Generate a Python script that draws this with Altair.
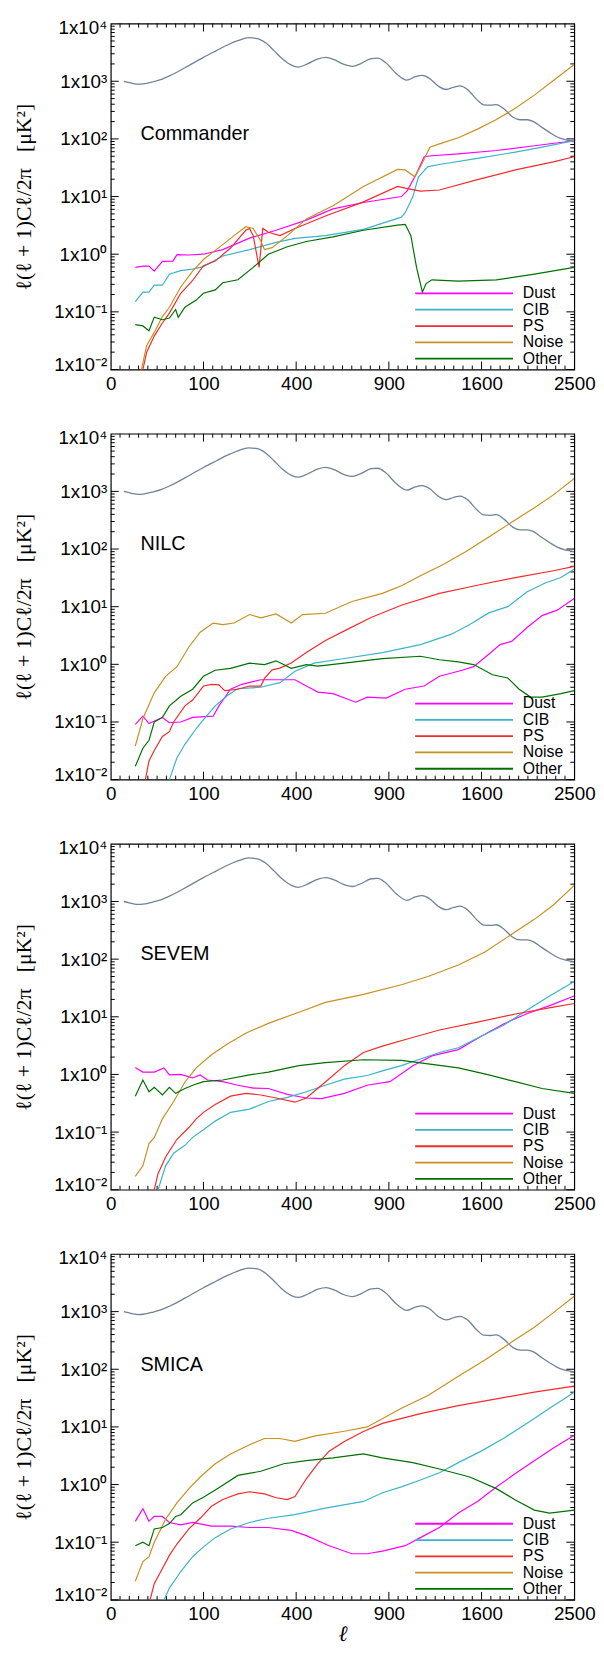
import altair as alt
import pandas as pd

W, H = 469, 350
SANS = "Liberation Sans"
SERIF = "Liberation Serif"

SERIES = ["Dust", "CIB", "PS", "Noise", "Other"]
COLORS = ["#ff00ff", "#3ab4cc", "#f52a2a", "#c8901e", "#007000"]
CMB_COLOR = "#6f8398"
PANELS = ["Commander", "NILC", "SEVEM", "SMICA"]

X_TICKS = [0, 100, 400, 900, 1600, 2500]
Y_TICKS = [0.01, 0.1, 1, 10, 100, 1000, 10000]
Y_LABELS = ["1x10⁻²", "1x10⁻¹", "1x10⁰", "1x10¹", "1x10²", "1x10³", "1x10⁴"]

# CMB reference spectrum (same in all panels): (ell, D_ell)
CMB = [(2, 1000), (4, 950), (6, 910), (9, 890), (12, 900), (16, 930), (20, 970), (30, 1080),
       (40, 1240), (50, 1420), (70, 1850), (100, 2600), (130, 3400), (160, 4300), (190, 5100),
       (220, 5700), (250, 5500), (280, 4600), (310, 3400), (340, 2500), (380, 1900), (410, 1760),
       (450, 2000), (500, 2450), (540, 2600), (580, 2380), (630, 1980), (680, 1820), (730, 2050),
       (790, 2480), (830, 2520), (880, 2100), (950, 1350), (1020, 1050), (1080, 1200), (1130, 1260),
       (1180, 1130), (1250, 820), (1310, 720), (1370, 790), (1420, 830), (1480, 720), (1560, 480),
       (1620, 390), (1680, 385), (1730, 395), (1800, 330), (1880, 240), (1950, 215), (2020, 215),
       (2080, 200), (2160, 160), (2240, 130), (2320, 108), (2400, 97), (2470, 92), (2500, 90)]

# Commander
COM_DUST = [(7, 0.59), (12, 0.62), (17, 0.62), (22, 0.51), (31, 0.75), (45, 0.76), (51, 0.98), (70, 0.97),
            (100, 1.0), (146, 1.2), (224, 1.9), (318, 2.6), (445, 3.9), (575, 6.1), (743, 7.9), (983, 10),
            (1022, 12.5), (1088, 25), (1143, 49), (1200, 51), (1406, 55), (1731, 63), (2088, 76), (2500, 93)]
COM_CIB = [(7, 0.15), (12, 0.22), (17, 0.22), (22, 0.29), (31, 0.29), (40, 0.45), (57, 0.52), (78, 0.55),
           (100, 0.61), (146, 0.93), (224, 1.2), (318, 1.6), (395, 1.88), (536, 2.1), (743, 2.7), (983, 4.4),
           (1010, 5.3), (1062, 10), (1102, 22), (1171, 33), (1257, 36), (1565, 46), (1905, 59), (2165, 72),
           (2500, 93)]
COM_PS = [(10, 0.006), (15, 0.020), (22, 0.038), (31, 0.064), (40, 0.095), (57, 0.21), (78, 0.35), (100, 0.63),
          (127, 0.76), (167, 1.28), (212, 2.6), (224, 2.8), (236, 2.1), (256, 0.59), (269, 2.8), (289, 2.4),
          (333, 2.1), (395, 2.8), (536, 4.6), (743, 8.1), (957, 15), (1009, 14), (1116, 12.4), (1257, 13),
          (1565, 19.7), (1905, 29), (2280, 40), (2500, 49)]
COM_NOISE = [(9, 0.006), (15, 0.026), (22, 0.044), (31, 0.083), (40, 0.12), (57, 0.27), (78, 0.51), (100, 0.81),
             (136, 1.3), (177, 2.1), (212, 3.0), (236, 2.8), (262, 1.7), (275, 1.2), (303, 1.3), (363, 2.1),
             (445, 4.1), (575, 6.9), (743, 15), (957, 29.5), (1009, 29), (1075, 22), (1116, 33), (1185, 72),
             (1257, 82), (1406, 105), (1565, 148), (1731, 217), (1905, 340), (2088, 575), (2280, 1030),
             (2500, 1960)]
COM_OTHER = [(7, 0.060), (12, 0.057), (17, 0.047), (22, 0.081), (31, 0.073), (40, 0.078), (49, 0.11), (53, 0.08),
             (64, 0.12), (85, 0.16), (100, 0.21), (127, 0.24), (146, 0.32), (188, 0.36), (236, 0.59), (289, 1.0),
             (363, 1.35), (445, 1.66), (575, 2.0), (743, 2.6), (957, 3.2), (1009, 3.3), (1048, 2.1), (1088, 0.59),
             (1130, 0.22), (1157, 0.31), (1200, 0.36), (1406, 0.34), (1731, 0.36), (2088, 0.45), (2500, 0.59)]

# NILC
NIL_DUST = [(7, 0.091), (12, 0.126), (17, 0.094), (31, 0.12), (40, 0.097), (57, 0.10), (78, 0.12), (122, 0.126),
            (136, 0.19), (167, 0.37), (200, 0.45), (262, 0.54), (333, 0.54), (395, 0.54), (445, 0.42), (499, 0.33),
            (575, 0.31), (699, 0.22), (765, 0.27), (883, 0.26), (1009, 0.37), (1143, 0.42), (1257, 0.62),
            (1437, 0.79), (1532, 0.91), (1663, 1.5), (1764, 2.2), (1870, 2.5), (2014, 4.3), (2165, 7),
            (2319, 8.7), (2500, 13.8)]
NIL_CIB = [(38, 0.006), (40, 0.01), (51, 0.024), (64, 0.041), (85, 0.077), (100, 0.11), (127, 0.19), (156, 0.28),
           (188, 0.38), (262, 0.40), (333, 0.48), (395, 0.76), (481, 1.05), (635, 1.26), (859, 1.6), (1116, 2.2),
           (1346, 3.3), (1500, 4.9), (1663, 7.8), (1834, 10), (2014, 18), (2202, 26), (2359, 32), (2500, 45)]
NIL_PS = [(12, 0.006), (17, 0.021), (22, 0.032), (31, 0.056), (40, 0.068), (46, 0.10), (64, 0.19), (78, 0.24),
          (100, 0.42), (118, 0.45), (136, 0.44), (151, 0.35), (188, 0.37), (224, 0.42), (262, 0.42), (275, 0.57),
          (303, 0.80), (333, 0.86), (379, 1.05), (445, 1.6), (536, 2.6), (635, 3.8), (788, 6.5), (983, 10.6),
          (1257, 17), (1565, 23.5), (1905, 32), (2280, 42), (2500, 50)]
NIL_NOISE = [(7, 0.038), (12, 0.115), (22, 0.32), (35, 0.62), (51, 0.91), (71, 2.0), (93, 3.6), (122, 5.2),
             (146, 4.9), (177, 5.2), (224, 7.3), (262, 6.4), (318, 7.5), (379, 5.2), (428, 7.3), (536, 7.7),
             (677, 12.3), (859, 17), (983, 23), (1116, 34.5), (1286, 54), (1469, 91), (1663, 162), (1870, 290),
             (2088, 520), (2280, 870), (2500, 1670)]
NIL_OTHER = [(7, 0.017), (12, 0.035), (17, 0.048), (22, 0.10), (31, 0.12), (40, 0.19), (57, 0.28), (78, 0.37),
             (100, 0.62), (127, 0.79), (167, 0.85), (224, 1.05), (275, 0.99), (318, 1.15), (379, 0.85), (445, 0.99),
             (499, 0.93), (635, 1.05), (859, 1.26), (1116, 1.38), (1257, 1.2), (1406, 1.1), (1532, 0.99),
             (1696, 0.66), (1834, 0.58), (1941, 0.37), (2050, 0.27), (2165, 0.27), (2359, 0.31), (2500, 0.35)]

# SEVEM
SEV_DUST = [(7, 1.32), (12, 1.1), (22, 1.1), (33, 1.3), (40, 0.98), (57, 1.0), (78, 0.87), (93, 0.98), (109, 0.80),
            (146, 0.75), (188, 0.65), (236, 0.58), (289, 0.57), (363, 0.45), (445, 0.39), (517, 0.38), (635, 0.47),
            (765, 0.65), (907, 0.75), (1062, 1.42), (1200, 2.1), (1406, 2.7), (1597, 4.6), (1800, 7.6),
            (2014, 11.3), (2241, 15.6), (2500, 23)]
SEV_CIB = [(24, 0.006), (26, 0.01), (35, 0.026), (46, 0.043), (64, 0.059), (78, 0.081), (100, 0.11), (127, 0.155),
           (167, 0.22), (224, 0.25), (289, 0.34), (363, 0.40), (445, 0.50), (536, 0.65), (635, 0.83), (765, 0.96),
           (859, 1.15), (983, 1.42), (1116, 1.85), (1257, 2.4), (1406, 2.9), (1597, 4.6), (1800, 7.2),
           (2014, 13), (2241, 23), (2500, 41)]
SEV_PS = [(19, 0.006), (26, 0.019), (35, 0.037), (51, 0.075), (71, 0.12), (85, 0.17), (100, 0.22), (127, 0.30),
          (167, 0.42), (212, 0.47), (262, 0.44), (318, 0.39), (395, 0.33), (445, 0.39), (536, 0.74), (635, 1.42),
          (743, 2.4), (859, 3.1), (1035, 4.2), (1257, 5.9), (1565, 8.1), (1905, 11.2), (2280, 14.7), (2500, 17)]
SEV_NOISE = [(7, 0.017), (12, 0.026), (17, 0.063), (22, 0.08), (31, 0.17), (46, 0.34), (64, 0.74), (85, 1.3),
             (118, 2.2), (156, 3.3), (212, 5.2), (289, 7.7), (412, 12), (536, 17.8), (743, 24.5), (983, 36),
             (1171, 50), (1406, 79), (1629, 133), (1870, 270), (2088, 490), (2280, 870), (2500, 1900)]
SEV_OTHER = [(7, 0.42), (12, 0.8), (17, 0.50), (22, 0.60), (31, 0.44), (40, 0.60), (49, 0.47), (64, 0.57),
             (78, 0.65), (100, 0.75), (146, 0.80), (224, 0.98), (289, 1.1), (412, 1.42), (536, 1.6), (743, 1.8),
             (983, 1.75), (1200, 1.5), (1406, 1.3), (1663, 0.98), (1905, 0.75), (2165, 0.57), (2500, 0.47)]

# SMICA
SMI_DUST = [(7, 0.23), (12, 0.38), (17, 0.23), (22, 0.28), (31, 0.28), (40, 0.22), (57, 0.20), (78, 0.22),
            (118, 0.19), (167, 0.19), (224, 0.18), (289, 0.18), (379, 0.16), (445, 0.13), (555, 0.087),
            (677, 0.063), (765, 0.063), (859, 0.07), (1009, 0.087), (1116, 0.12), (1257, 0.18), (1406, 0.32),
            (1565, 0.51), (1731, 0.91), (1905, 1.55), (2088, 2.6), (2280, 4.3), (2500, 7.2)]
SMI_CIB = [(30, 0.006), (33, 0.01), (40, 0.016), (57, 0.031), (78, 0.056), (100, 0.083), (127, 0.12), (167, 0.17),
           (224, 0.22), (289, 0.26), (395, 0.30), (536, 0.39), (743, 0.51), (859, 0.72), (983, 0.91), (1116, 1.2),
           (1257, 1.6), (1406, 2.4), (1597, 3.8), (1800, 6.4), (2014, 11.5), (2241, 21), (2500, 40)]
SMI_PS = [(15, 0.006), (22, 0.019), (31, 0.035), (40, 0.059), (51, 0.093), (71, 0.17), (93, 0.26), (118, 0.42),
          (146, 0.55), (188, 0.69), (224, 0.75), (275, 0.69), (318, 0.59), (363, 0.55), (395, 0.62), (445, 1.26),
          (499, 2.3), (555, 3.8), (635, 5.6), (743, 8.3), (859, 11.5), (1116, 17), (1406, 23.4), (1731, 30.7),
          (2088, 40), (2500, 51)]
SMI_NOISE = [(7, 0.021), (12, 0.046), (17, 0.056), (22, 0.10), (35, 0.25), (51, 0.48), (71, 0.85), (93, 1.35),
             (127, 2.3), (167, 3.4), (224, 4.9), (275, 6.3), (333, 6.3), (395, 5.6), (481, 6.9), (635, 8.4),
             (765, 10), (983, 21), (1171, 35), (1406, 76), (1629, 145), (1870, 296), (2088, 535), (2280, 960),
             (2500, 1850)]
SMI_OTHER = [(7, 0.087), (12, 0.10), (17, 0.087), (22, 0.17), (31, 0.18), (40, 0.21), (49, 0.28), (57, 0.30),
             (78, 0.48), (100, 0.6), (136, 0.88), (188, 1.44), (262, 1.7), (348, 2.3), (445, 2.6), (575, 2.9),
             (743, 3.4), (859, 2.9), (1062, 2.4), (1257, 1.86), (1500, 1.35), (1731, 0.85), (1905, 0.54),
             (2088, 0.36), (2241, 0.32), (2500, 0.36)]

PANEL_DATA = {
    "Commander": [COM_DUST, COM_CIB, COM_PS, COM_NOISE, COM_OTHER],
    "NILC": [NIL_DUST, NIL_CIB, NIL_PS, NIL_NOISE, NIL_OTHER],
    "SEVEM": [SEV_DUST, SEV_CIB, SEV_PS, SEV_NOISE, SEV_OTHER],
    "SMICA": [SMI_DUST, SMI_CIB, SMI_PS, SMI_NOISE, SMI_OTHER],
}

# tick positions (sqrt-spaced minor ticks on x, log minor ticks on y)
XT = pd.DataFrame([{"ell": s * s, "major": s % 10 == 0} for s in range(1, 50)])
yt_rows = []
for e in range(-2, 4):
    for k in range(1, 10):
        yt_rows.append({"val": k * 10.0 ** e, "major": k == 1})
YT = pd.DataFrame(yt_rows)

label_expr = ""
for i, lab in enumerate(Y_LABELS[:-1]):
    label_expr += f"datum.value < {Y_TICKS[i] * 3} ? '{lab}' : "
label_expr += f"'{Y_LABELS[-1]}'"

xscale = alt.Scale(type="sqrt", domain=[0, 2500], nice=False, zero=False)
yscale = alt.Scale(type="log", domain=[0.01, 10000], nice=False)
cscale = alt.Scale(domain=SERIES, range=COLORS)

NB = "\u00a0"
YTITLE = "ℓ(ℓ + 1)Cℓ/2π" + NB * 3 + "[μK²]"


def panel(name, lists, last):
    xaxis_kw = dict(values=X_TICKS, format="d", ticks=False, domain=False, grid=False, labelFontSize=19,
                    labelPadding=5, labelFlush=False, labelFont=SANS)
    if last:
        xaxis = alt.Axis(title="ℓ", titleFont=SERIF, titleFontSize=22, titleFontWeight="normal",
                         titleFontStyle="italic", titlePadding=0, **xaxis_kw)
    else:
        xaxis = alt.Axis(title=None, **xaxis_kw)
    yaxis = alt.Axis(values=Y_TICKS, labelExpr=label_expr, ticks=False, domain=False, grid=False,
                     labelFontSize=19, labelPadding=4, labelFont=SANS, labelFlush=True, labelFlushOffset=5,
                     title=YTITLE, titleFont=SERIF, titleFontSize=22, titleFontWeight="normal",
                     titlePadding=16, minExtent=60, maxExtent=60)
    X = alt.X("ell:Q", scale=xscale, axis=xaxis)
    Y = alt.Y("val:Q", scale=yscale, axis=yaxis)

    rows = []
    for s, pts in zip(SERIES, lists):
        for l, v in pts:
            rows.append({"ell": l, "val": v, "series": s})
    df = pd.DataFrame(rows)
    cmb_df = pd.DataFrame(CMB, columns=["ell", "val"])

    layers = []
    # inward ticks on all four sides
    for maj, ln in [(True, 8), (False, 4)]:
        cond = "datum.major" if maj else "!datum.major"
        xb = alt.Chart(XT).transform_filter(cond)
        layers.append(xb.mark_rule(color="black", strokeWidth=1).encode(
            x=X, y=alt.value(H), y2=alt.value(H - ln)))
        layers.append(xb.mark_rule(color="black", strokeWidth=1).encode(
            x=X, y=alt.value(0), y2=alt.value(ln)))
        yb = alt.Chart(YT).transform_filter(cond)
        layers.append(yb.mark_rule(color="black", strokeWidth=1).encode(
            y=Y, x=alt.value(0), x2=alt.value(ln)))
        layers.append(yb.mark_rule(color="black", strokeWidth=1).encode(
            y=Y, x=alt.value(W), x2=alt.value(W - ln)))

    layers.append(alt.Chart(cmb_df).mark_line(clip=True, color=CMB_COLOR, strokeWidth=1.3,
                                              interpolate="monotone").encode(x=X, y=Y))
    layers.append(alt.Chart(df).mark_line(clip=True, strokeWidth=1.2).encode(
        x=X, y=Y, color=alt.Color("series:N", scale=cscale, legend=None)))

    leg = alt.Chart(pd.DataFrame({"series": SERIES, "i": list(range(5))})).transform_calculate(
        val=f"pow(10, 4 - 6 * ({H} - 11 - (4 - datum.i) * 16.5) / {H})")
    layers.append(leg.mark_rule(strokeWidth=1.8).encode(
        x=alt.value(308), x2=alt.value(407), y=Y,
        color=alt.Color("series:N", scale=cscale, legend=None)))
    layers.append(leg.mark_text(align="left", baseline="middle", fontSize=16, font=SANS, color="black").encode(
        x=alt.value(417), y=Y, text="series:N"))

    layers.append(alt.Chart(pd.DataFrame({"name": [name]})).mark_text(
        align="left", baseline="middle", fontSize=20, font=SANS, color="black").encode(
        x=alt.value(30), y=alt.value(112), text="name:N"))

    return alt.layer(*layers).properties(width=W, height=H)


charts = [panel(n, PANEL_DATA[n], i == len(PANELS) - 1) for i, n in enumerate(PANELS)]
chart = alt.vconcat(*charts, spacing=34).properties(
    padding={"left": 4, "top": 0, "right": 0, "bottom": 0}
).configure_view(stroke="black", strokeWidth=1.2).configure_axis(labelColor="black", titleColor="black")

chart.save("out.html", embed_options={"renderer": "svg", "actions": False})
